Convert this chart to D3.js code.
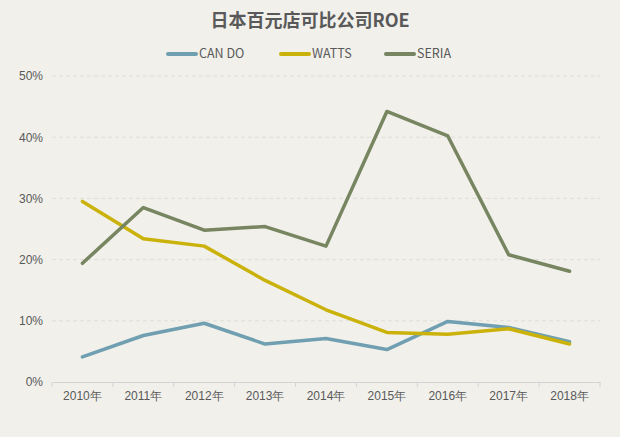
<!DOCTYPE html>
<html>
<head>
<meta charset="utf-8">
<script src="https://cdn.jsdelivr.net/npm/d3@7"></script>
<style>
  body { margin: 0; background: #f1f0eb; }
  svg { display: block; font-family: "Noto Sans CJK SC", "Noto Sans", sans-serif; }
</style>
</head>
<body>
<svg id="chart" width="620" height="437"></svg>
<script>
"use strict";

const years = ["2010年", "2011年", "2012年", "2013年", "2014年", "2015年", "2016年", "2017年", "2018年"];
const canDo = [4.1, 7.6, 9.6, 6.2, 7.1, 5.3, 9.9, 8.9, 6.6];
const watts = [29.5, 23.4, 22.2, 16.6, 11.8, 8.1, 7.8, 8.7, 6.2];
const seria = [19.4, 28.5, 24.8, 25.4, 22.2, 44.2, 40.2, 20.8, 18.1];
const yTicks = [0, 10, 20, 30, 40, 50];

const series = [
  { name: "CAN DO", values: canDo, color: "#6f9fb0" },
  { name: "WATTS", values: watts, color: "#cbb20b" },
  { name: "SERIA", values: seria, color: "#778561" }
];

const svg = d3.select("#chart");
const w = 620, h = 437;
const margin = { top: 76, right: 20, bottom: 55, left: 52 };

svg.append("rect").attr("width", w).attr("height", h).attr("fill", "#f1f0eb");

const x = d3.scaleBand().domain(years).range([margin.left, w - margin.right]);
const y = d3.scaleLinear().domain([0, 50]).range([h - margin.bottom, margin.top]);

// gridlines
svg.append("g")
  .selectAll("line")
  .data(yTicks.filter((d) => d > 0))
  .enter()
  .append("line")
  .attr("x1", margin.left)
  .attr("x2", w - margin.right)
  .attr("y1", (d) => y(d))
  .attr("y2", (d) => y(d))
  .attr("stroke", "#dfddd7")
  .attr("stroke-dasharray", "4,3");

// y axis labels
const yAxis = d3.axisLeft(y).tickValues(yTicks).tickFormat((d) => d + "%").tickSize(0).tickPadding(9);
const gy = svg.append("g").attr("transform", `translate(${margin.left},0)`).call(yAxis);
gy.select(".domain").remove();
gy.selectAll("text").attr("fill", "#595959").style("font-size", "12px");

// x axis
const xAxis = d3.axisBottom(x).tickSizeOuter(0).tickSize(0).tickPadding(9);
const gx = svg.append("g").attr("transform", `translate(0,${y(0)})`).call(xAxis);
gx.select(".domain").attr("stroke", "#d4d4d4");
gx.selectAll("text").attr("fill", "#595959").style("font-size", "12px");
// tick marks between categories
gx.selectAll(".sep")
  .data(d3.range(years.length + 1))
  .enter()
  .append("line")
  .attr("x1", (i) => margin.left + i * x.step())
  .attr("x2", (i) => margin.left + i * x.step())
  .attr("y1", 0)
  .attr("y2", 5)
  .attr("stroke", "#d4d4d4");

// lines
const line = d3.line()
  .x((d, i) => x(years[i]) + x.bandwidth() / 2)
  .y((d) => y(d));

svg.append("g")
  .selectAll("path")
  .data(series)
  .enter()
  .append("path")
  .attr("d", (d) => line(d.values))
  .attr("fill", "none")
  .attr("stroke", (d) => d.color)
  .attr("stroke-width", 3.5)
  .attr("stroke-linejoin", "round")
  .attr("stroke-linecap", "round");

// title
svg.append("text")
  .attr("x", w / 2)
  .attr("y", 27)
  .attr("text-anchor", "middle")
  .attr("fill", "#595959")
  .style("font-size", "18px")
  .style("font-weight", "bold")
  .text("日本百元店可比公司ROE");

// legend
const legendX = [168, 281, 386];
const legend = svg.append("g")
  .selectAll("g")
  .data(series)
  .enter()
  .append("g")
  .attr("transform", (d, i) => `translate(${legendX[i]},54)`);
legend.append("line")
  .attr("x1", 0)
  .attr("x2", 28)
  .attr("stroke", (d) => d.color)
  .attr("stroke-width", 4)
  .attr("stroke-linecap", "round");
legend.append("text")
  .attr("x", 31)
  .attr("dy", "0.35em")
  .attr("fill", "#595959")
  .style("font-size", "12.5px")
  .text((d) => d.name);
</script>
</body>
</html>
